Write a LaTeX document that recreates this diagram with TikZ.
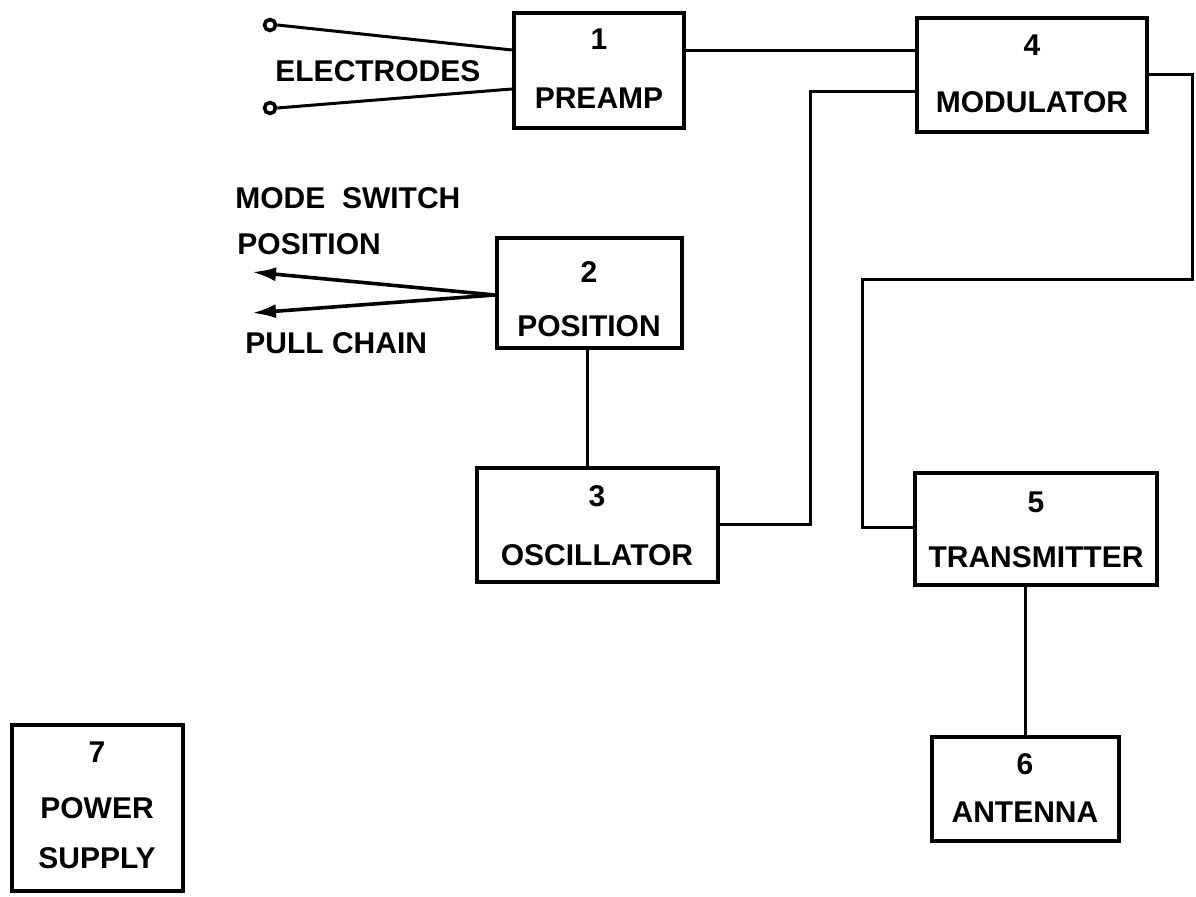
\documentclass[tikz,border=0pt]{standalone}
\usepackage{fontspec}
\setmainfont{Liberation Sans}
\usetikzlibrary{arrows.meta}
\begin{document}
\begin{tikzpicture}[x=0.5pt,y=-0.5pt,
  blk/.style={draw, line width=2.2pt, rectangle, inner sep=0pt},
  lbl/.style={inner sep=0pt, font=\fontsize{15}{18}\selectfont\bfseries},
  wire/.style={line width=1.5pt, line join=miter},
  term/.style={circle, draw, line width=1.8pt, minimum size=5.5pt, inner sep=0pt},
  outarrow/.style={line width=1.8pt, -{Latex[length=12pt,width=7pt]}}]
\fill[white] (0,0) rectangle (1196,897);
\useasboundingbox (0,0) rectangle (1196,897);

% boxes
\node[blk, minimum width=85pt,  minimum height=57.5pt] (b1) at (599,70.5) {};
\node[blk, minimum width=115pt, minimum height=57pt]   (b4) at (1032,75) {};
\node[blk, minimum width=92.5pt,minimum height=55pt]   (b2) at (589.5,293) {};
\node[blk, minimum width=120.5pt,minimum height=57pt]  (b3) at (597.5,525) {};
\node[blk, minimum width=121pt, minimum height=56pt]   (b5) at (1036,529) {};
\node[blk, minimum width=93.5pt,minimum height=52pt]   (b6) at (1025.5,789) {};
\node[blk, minimum width=85.5pt,minimum height=83pt]   (b7) at (97.5,808) {};

% box texts
\node[lbl] (n1) at (599,39) {1};
\node[lbl] (t1) at (599,98) {PREAMP};
\node[lbl] (n4) at (1032,45) {4};
\node[lbl] (t4) at (1032,102) {MODULATOR};
\node[lbl] (n2) at (589,272) {2};
\node[lbl] (t2) at (589,326) {POSITION};
\node[lbl] (n3) at (597,496) {3};
\node[lbl] (t3) at (597,555) {OSCILLATOR};
\node[lbl] (n5) at (1036,502) {5};
\node[lbl] (t5) at (1036,557) {TRANSMITTER};
\node[lbl] (n6) at (1025,764) {6};
\node[lbl] (t6) at (1025,812) {ANTENNA};
\node[lbl] (n7) at (97,752) {7};
\node[lbl] (t7a) at (97,808) {POWER};
\node[lbl] (t7b) at (97,858) {SUPPLY};

% free labels
\node[lbl, anchor=west] (el) at (275,71) {ELECTRODES};
\node[lbl, anchor=west] (ms) at (235,198) {MODE\ \ SWITCH};
\node[lbl, anchor=west] (mp) at (237,244) {POSITION};
\node[lbl, anchor=west] (pc) at (245,343) {PULL CHAIN};

% electrodes
\node[term] (e1) at (270,25) {};
\node[term] (e2) at (270,108) {};
\draw[wire] (e1.east) -- (b1.west |- 0,50);
\draw[wire] (e2.east) -- (b1.west |- 0,89);

% position outputs
\coordinate (a1) at (252,272);
\coordinate (a2) at (252,313);
\draw[outarrow] (b2.west |- 0,295) -- (a1);
\draw[outarrow] (b2.west |- 0,295) -- (a2);

% connectors
\draw[wire] (b1.east |- 0,51) -- (b4.west |- 0,51);
\draw[wire] (b4.west |- 0,92) -- (810,92) -- (810,525) -- (b3.east |- 0,525);
\draw[wire] (b4.east |- 0,75) -- (1192,75) -- (1192,280) -- (862,280) -- (862,528) -- (b5.west |- 0,528);
\draw[wire] (b2.south -| 587,0) -- (b3.north -| 587,0);
\draw[wire] (b6.north |- b5.south) -- (b6.north);
\end{tikzpicture}
\end{document}
